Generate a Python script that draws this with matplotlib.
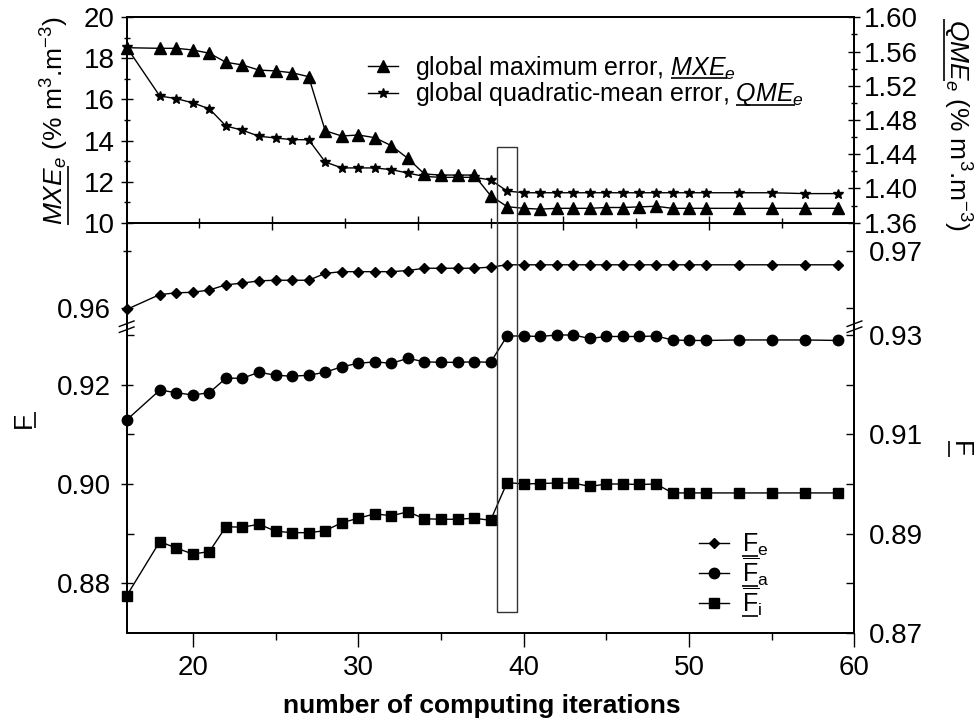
import matplotlib
matplotlib.use("Agg")
import matplotlib.pyplot as plt
import numpy as np
from matplotlib.lines import Line2D
from matplotlib.patches import Rectangle
from matplotlib.ticker import FixedLocator, FormatStrFormatter, NullFormatter

plt.rcParams['font.family'] = ['Liberation Sans', 'DejaVu Sans']
plt.rcParams['mathtext.fontset'] = 'custom'
plt.rcParams['mathtext.rm'] = 'Liberation Sans'
plt.rcParams['mathtext.it'] = 'Liberation Sans:italic'
plt.rcParams['mathtext.bf'] = 'Liberation Sans:bold'
plt.rcParams['mathtext.sf'] = 'Liberation Sans'

# ---------------- data ----------------
iterations = [16, 18, 19, 20, 21, 22, 23, 24, 25, 26, 27, 28, 29, 30, 31, 32, 33, 34, 35, 36, 37, 38,
              39, 40, 41, 42, 43, 44, 45, 46, 47, 48, 49, 50, 51, 53, 55, 57, 59]
mxe = [18.52, 18.49, 18.49, 18.41, 18.25, 17.81, 17.68, 17.43, 17.39, 17.30, 17.11,
       14.48, 14.22, 14.27, 14.14, 13.75, 13.13, 12.37, 12.32, 12.32, 12.32, 11.32,
       10.78, 10.70, 10.66, 10.70, 10.70, 10.70, 10.74, 10.74, 10.77, 10.80, 10.70, 10.70, 10.70,
       10.70, 10.70, 10.70, 10.70]
qme = [1.565, 1.508, 1.505, 1.500, 1.493, 1.473, 1.468, 1.461, 1.459, 1.457, 1.457,
       1.431, 1.424, 1.424, 1.424, 1.422, 1.418, 1.414, 1.413, 1.413, 1.413, 1.410,
       1.397, 1.395, 1.395, 1.395, 1.395, 1.395, 1.395, 1.395, 1.395, 1.395, 1.395, 1.395, 1.395,
       1.395, 1.395, 1.394, 1.394]
f_e = [0.9597, 0.9623, 0.9626, 0.9627, 0.9631, 0.9640, 0.9643, 0.9647, 0.9648, 0.9648, 0.9648,
       0.9660, 0.9663, 0.9663, 0.9663, 0.9663, 0.9665, 0.9669, 0.9669, 0.9669, 0.9669, 0.9671,
       0.9675, 0.9675, 0.9675, 0.9675, 0.9675, 0.9675, 0.9675, 0.9675, 0.9675, 0.9675, 0.9675, 0.9675, 0.9675,
       0.9675, 0.9675, 0.9675, 0.9675]
f_a = [0.9129, 0.9189, 0.9184, 0.9179, 0.9184, 0.9213, 0.9213, 0.9225, 0.9219, 0.9217, 0.9219,
       0.9225, 0.9236, 0.9243, 0.9246, 0.9243, 0.9253, 0.9246, 0.9245, 0.9245, 0.9246, 0.9245,
       0.9298, 0.9298, 0.9297, 0.9300, 0.9300, 0.9293, 0.9297, 0.9297, 0.9297, 0.9298, 0.9290, 0.9289, 0.9289,
       0.9290, 0.9290, 0.9290, 0.9289]
f_i = [0.8775, 0.8884, 0.8871, 0.8859, 0.8864, 0.8914, 0.8913, 0.8919, 0.8905, 0.8902, 0.8902,
       0.8906, 0.8922, 0.8931, 0.8940, 0.8936, 0.8944, 0.8930, 0.8929, 0.8929, 0.8931, 0.8927,
       0.9003, 0.9000, 0.9001, 0.9002, 0.9002, 0.8995, 0.9000, 0.9000, 0.8999, 0.9000, 0.8982, 0.8982, 0.8982,
       0.8982, 0.8982, 0.8982, 0.8982]

x_major = [20, 30, 40, 50, 60]
x_minor = [25, 35, 45, 55]
mxe_ticks = [10, 12, 14, 16, 18, 20]
qme_ticks = [1.36, 1.40, 1.44, 1.48, 1.52, 1.56, 1.60]
f_left_upper = [0.96]
f_right_upper = [0.97]
f_left_lower = [0.88, 0.90, 0.92]
f_right_lower = [0.87, 0.89, 0.91, 0.93]

# ---------------- layout (pixel based) ----------------
W, H = 978.0, 724.0
fig = plt.figure(figsize=(W / 100, H / 100), dpi=100)


def FX(px):
    return px / W


def FY(py):
    return 1.0 - py / H


L, R = 126.7, 854.5
T_TOP, T_BOT = 17.3, 222.7
BRK = 326.7
BOT = 633.0
TS = 20  # tick label size
LW = 1.3

ax_t = fig.add_axes([FX(L), FY(T_BOT), (R - L) / W, (T_BOT - T_TOP) / H])
ax_u = fig.add_axes([FX(L), FY(BRK), (R - L) / W, (BRK - T_BOT) / H])
ax_l = fig.add_axes([FX(L), FY(BOT), (R - L) / W, (BOT - BRK) / H])
for a in (ax_u, ax_l):
    a.patch.set_visible(False)

line_kw = dict(color='black', lw=1.0, clip_on=False)

# ---- top panel ----
ax_t.plot(iterations, mxe, marker='^', ms=8.5, **line_kw)
ax_t.set_xlim(16, 60)
ax_t.set_ylim(10, 20)
ax_t.yaxis.set_major_locator(FixedLocator(mxe_ticks))
ax_t.yaxis.set_minor_locator(FixedLocator([11, 13, 15, 17, 19]))
ax_t.yaxis.set_major_formatter(FormatStrFormatter('%d'))
tx = np.linspace(16, 60, 11)[1:-1]
ax_t.xaxis.set_major_locator(FixedLocator(tx[1::2]))
ax_t.xaxis.set_minor_locator(FixedLocator(tx[0::2]))
ax_t.xaxis.set_major_formatter(NullFormatter())
ax_t.tick_params(axis='x', which='major', direction='inout', length=10, width=1, top=False)
ax_t.tick_params(axis='x', which='minor', direction='inout', length=7, width=1, top=False)
ax_t.tick_params(axis='y', which='major', direction='inout', length=9, width=1, labelsize=TS, pad=4)
ax_t.tick_params(axis='y', which='minor', direction='inout', length=5, width=1)
for s in ax_t.spines.values():
    s.set_linewidth(LW)

ax_t2 = ax_t.twinx()
ax_t2.plot(iterations, qme, marker='*', ms=7.5, **line_kw)
ax_t2.set_ylim(1.36, 1.60)
ax_t2.yaxis.set_major_locator(FixedLocator(qme_ticks))
ax_t2.yaxis.set_minor_locator(FixedLocator([1.38, 1.42, 1.46, 1.50, 1.54, 1.58]))
ax_t2.yaxis.set_major_formatter(FormatStrFormatter('%.2f'))
ax_t2.tick_params(axis='y', which='major', direction='inout', length=9, width=1, labelsize=TS, pad=2)
ax_t2.tick_params(axis='y', which='minor', direction='inout', length=5, width=1)
for s in ax_t2.spines.values():
    s.set_linewidth(LW)

# ---- bottom panel, upper section ----
ax_u.plot(iterations, f_e, marker='D', ms=5, **line_kw)
ax_u.set_xlim(16, 60)
ax_u.set_ylim(0.95668, 0.97486)
ax_u.spines['top'].set_visible(False)
ax_u.spines['bottom'].set_visible(False)
ax_u.set_xticks([])
ax_u.yaxis.set_major_locator(FixedLocator(f_left_upper))
ax_u.yaxis.set_minor_locator(FixedLocator([0.97]))
ax_u.yaxis.set_major_formatter(FormatStrFormatter('%.2f'))
ax_u.tick_params(axis='y', which='major', direction='inout', length=9, width=1, labelsize=TS, pad=7)
ax_u.tick_params(axis='y', which='minor', direction='inout', length=6, width=1)
for s in ax_u.spines.values():
    s.set_linewidth(LW)

ax_u2 = ax_u.twinx()
ax_u2.set_ylim(0.95668, 0.97486)
ax_u2.spines['top'].set_visible(False)
ax_u2.spines['bottom'].set_visible(False)
ax_u2.yaxis.set_major_locator(FixedLocator(f_right_upper))
ax_u2.yaxis.set_minor_locator(FixedLocator([0.96]))
ax_u2.yaxis.set_major_formatter(FormatStrFormatter('%.2f'))
ax_u2.tick_params(axis='y', which='major', direction='in', length=6, width=1, labelsize=TS, pad=10)
ax_u2.tick_params(axis='y', which='minor', direction='in', length=6, width=1)
for s in ax_u2.spines.values():
    s.set_linewidth(LW)

# ---- bottom panel, lower section ----
ax_l.plot(iterations, f_a, marker='o', ms=7.5, **line_kw)
ax_l.plot(iterations, f_i, marker='s', ms=7, **line_kw)
ax_l.set_xlim(16, 60)
ax_l.set_ylim(0.87, 0.93167)
ax_l.spines['top'].set_visible(False)
ax_l.xaxis.set_major_locator(FixedLocator(x_major))
ax_l.xaxis.set_minor_locator(FixedLocator(x_minor))
ax_l.xaxis.set_major_formatter(FormatStrFormatter('%d'))
ax_l.tick_params(axis='x', which='major', direction='out', length=10, width=1, labelsize=TS, pad=6)
ax_l.tick_params(axis='x', which='minor', direction='out', length=5, width=1)
ax_l.yaxis.set_major_locator(FixedLocator(f_left_lower))
ax_l.yaxis.set_minor_locator(FixedLocator([0.89, 0.91, 0.93]))
ax_l.yaxis.set_major_formatter(FormatStrFormatter('%.2f'))
ax_l.tick_params(axis='y', which='major', direction='inout', length=9, width=1, labelsize=TS, pad=7)
ax_l.tick_params(axis='y', which='minor', direction='in', length=5, width=1)
for s in ax_l.spines.values():
    s.set_linewidth(LW)

ax_l2 = ax_l.twinx()
ax_l2.set_ylim(0.87, 0.93167)
ax_l2.spines['top'].set_visible(False)
ax_l2.yaxis.set_major_locator(FixedLocator(f_right_lower))
ax_l2.yaxis.set_minor_locator(FixedLocator([0.88, 0.90, 0.92]))
ax_l2.yaxis.set_major_formatter(FormatStrFormatter('%.2f'))
ax_l2.tick_params(axis='y', which='major', direction='in', length=6, width=1, labelsize=TS, pad=10)
ax_l2.tick_params(axis='y', which='minor', direction='in', length=6, width=1)
for s in ax_l2.spines.values():
    s.set_linewidth(LW)


def fig_line(x0, y0, x1, y1, lw=1.0, color='black'):
    fig.add_artist(Line2D([FX(x0), FX(x1)], [FY(y0), FY(y1)], transform=fig.transFigure,
                          lw=lw, color=color, solid_capstyle='butt'))


# axis break marks
for xc in (L, R):
    for dy in (-3.0, 3.0):
        fig_line(xc - 8, BRK + dy + 3, xc + 8, BRK + dy - 3, lw=1.0)

# highlight rectangle spanning both panels
p_top = ax_t.transData.transform((38.4, 13.7))
p_bot = ax_l.transData.transform((39.6, 0.8743))
x0f, y0f = p_top[0] / W, p_bot[1] / H
wf, hf = (p_bot[0] - p_top[0]) / W, (p_top[1] - p_bot[1]) / H
fig.add_artist(Rectangle((x0f, y0f), wf, hf, transform=fig.transFigure, fill=False,
                         edgecolor='#333333', lw=1.0, zorder=10))

# ---------------- texts ----------------
fig.text(FX(481.5), FY(713), 'number of computing iterations', fontsize=19, weight='bold',
         ha='center', va='baseline')

lab_mxe = r'$\mathit{MXE}_{\mathit{e}}$ (% m$^{3}$.m$^{-3}$)'
lab_qme = r'$\mathit{QME}_{\mathit{e}}$ (% m$^{3}$.m$^{-3}$)'
t_left = fig.text(FX(55), FY(121), lab_mxe, fontsize=19, rotation=90, ha='center', va='center')
t_right = fig.text(FX(957), FY(125), lab_qme, fontsize=19, rotation=270, ha='center', va='center')
t_fl = fig.text(FX(24), FY(420), 'F', fontsize=19, rotation=90, ha='center', va='center')
t_fr = fig.text(FX(960), FY(449), 'F', fontsize=19, rotation=270, ha='center', va='center')

# top legend
leg_rows = [66, 93]
leg_markers = ['^', '*']
leg_ms = [8.5, 7.5]
leg_texts = [r'global maximum error, $\mathit{MXE}_{\mathit{e}}$',
             r'global quadratic-mean error, $\mathit{QME}_{\mathit{e}}$']
leg_prefix = [r'global maximum error, $\mathit{MXE}$',
              r'global quadratic-mean error, $\mathit{QME}$']
leg_part = [r'$\mathit{MXE}$', r'$\mathit{QME}$']
top_leg_text = []
for yr, mk, ms, tx_ in zip(leg_rows, leg_markers, leg_ms, leg_texts):
    fig.add_artist(Line2D([FX(368), FX(398)], [FY(yr), FY(yr)], transform=fig.transFigure,
                          color='black', lw=1.0))
    fig.add_artist(Line2D([FX(383)], [FY(yr)], transform=fig.transFigure, color='black',
                          marker=mk, ms=ms, lw=0))
    top_leg_text.append(fig.text(FX(415), FY(yr + 8.5), tx_, fontsize=18, va='baseline'))

# bottom legend
bl_rows = [543, 573, 603]
bl_markers = ['D', 'o', 's']
bl_ms = [5, 7.5, 7]
bl_texts = [r'$\mathrm{F}_{\mathrm{e}}$', r'$\overline{\mathrm{F}}_{\mathrm{a}}$',
            r'$\overline{\mathrm{F}}_{\mathrm{i}}$']
bot_leg_text = []
for yr, mk, ms, tx_ in zip(bl_rows, bl_markers, bl_ms, bl_texts):
    fig.add_artist(Line2D([FX(699), FX(729)], [FY(yr), FY(yr)], transform=fig.transFigure,
                          color='black', lw=1.0))
    fig.add_artist(Line2D([FX(714)], [FY(yr)], transform=fig.transFigure, color='black',
                          marker=mk, ms=ms, lw=0))
    bot_leg_text.append(fig.text(FX(742), FY(yr + 9), tx_, fontsize=18, va='baseline'))

# ---------------- manual underlines ----------------
fig.canvas.draw()
rend = fig.canvas.get_renderer()


def width_px(s, size):
    t = fig.text(0, 0, s, fontsize=size)
    w = t.get_window_extent(renderer=rend).width
    t.remove()
    return w


def dline(x0, y0, x1, y1, lw=1.2):
    # display coordinates (origin bottom-left)
    fig.add_artist(Line2D([x0 / W, x1 / W], [y0 / H, y1 / H], transform=fig.transFigure,
                          lw=lw, color='black', solid_capstyle='butt'))


# left y label: rotated 90 -> underline on right side, at the start (bottom)
bb = t_left.get_window_extent(renderer=rend)
w = width_px(r'$\mathit{MXE}$', 19)
dline(bb.x1 - 3, bb.y0, bb.x1 - 3, bb.y0 + w)
# right y label: rotated 270 -> underline on left side, at the start (top)
bb = t_right.get_window_extent(renderer=rend)
w = width_px(r'$\mathit{QME}$', 19)
dline(bb.x0 + 3, bb.y1 - w, bb.x0 + 3, bb.y1)
# F labels
bb = t_fl.get_window_extent(renderer=rend)
w = width_px('F', 19)
cy = (bb.y0 + bb.y1) / 2
dline(bb.x1 - 1, cy - w / 2, bb.x1 - 1, cy + w / 2)
bb = t_fr.get_window_extent(renderer=rend)
cy = (bb.y0 + bb.y1) / 2
dline(bb.x0 + 1, cy - w / 2, bb.x0 + 1, cy + w / 2)

# top legend underlines
for t, pre, part, yr in zip(top_leg_text, leg_prefix, leg_part, leg_rows):
    bb = t.get_window_extent(renderer=rend)
    xe = bb.x0 + width_px(pre, 18)
    xs = xe - width_px(part, 18)
    ybase = H - (yr + 8.5)
    dline(xs, ybase - 3, xe, ybase - 3)

# bottom legend underlines
wF = width_px(r'$\mathrm{F}$', 18)
for t, yr in zip(bot_leg_text, bl_rows):
    bb = t.get_window_extent(renderer=rend)
    ybase = H - (yr + 9)
    dline(bb.x0, ybase - 4, bb.x0 + wF, ybase - 4)

fig.savefig('out.png', dpi=100)
